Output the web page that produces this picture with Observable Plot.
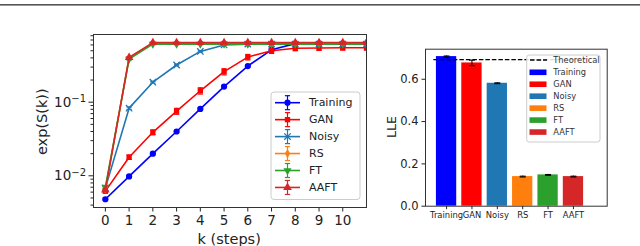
<!DOCTYPE html>
<html><head><meta charset="utf-8">
<script src="https://cdn.jsdelivr.net/npm/d3@7"></script>
<script src="https://cdn.jsdelivr.net/npm/@observablehq/plot@0.6"></script>
<style>
body{margin:0;background:#fff;}
#wrap{position:relative;width:640px;height:246px;overflow:hidden;font-family:"DejaVu Sans",sans-serif;}
#wrap > svg{position:absolute;top:0;}
</style></head><body><div id="wrap"></div>
<script>
// ---------- Left panel data ----------
const steps = [0,1,2,3,4,5,6,7,8,9,10,11];
const training    = [0.0048,0.0098,0.020,0.040,0.081,0.163,0.31,0.515,0.625,0.625,0.625,0.625];
const trainingErr = [0.0002,0.0004,0.0008,0.0015,0.003,0.006,0.010,0.012,0.010,0.010,0.010,0.010];
const gan         = [0.0062,0.0179,0.039,0.0755,0.143,0.26,0.41,0.50,0.54,0.545,0.55,0.55];
const ganErr      = [0.0004,0.0012,0.003,0.007,0.014,0.025,0.035,0.040,0.040,0.040,0.040,0.040];
const noisy       = [0.0068,0.083,0.187,0.32,0.49,0.60,0.615,0.615,0.615,0.615,0.615,0.615];
const noisyErr    = [0.0003,0.003,0.005,0.008,0.010,0.010,0.008,0.008,0.008,0.008,0.008,0.008];
const rs          = [0.0066,0.40,0.635,0.635,0.635,0.635,0.635,0.635,0.635,0.635,0.635,0.635];
const rsErr       = [0.0003,0.012,0.010,0.010,0.010,0.010,0.010,0.010,0.010,0.010,0.010,0.010];
const ft          = [0.0070,0.385,0.615,0.615,0.615,0.615,0.615,0.615,0.615,0.615,0.615,0.615];
const ftErr       = [0.0003,0.012,0.010,0.010,0.010,0.010,0.010,0.010,0.010,0.010,0.010,0.010];
const aaft        = [0.0064,0.405,0.645,0.645,0.645,0.645,0.645,0.645,0.645,0.645,0.645,0.645];
const aaftErr     = [0.0003,0.012,0.010,0.010,0.010,0.010,0.010,0.010,0.010,0.010,0.010,0.010];
const seriesNames = ["Training","GAN","Noisy","RS","FT","AAFT"];
const seriesColors = ["#0000ff","#ff0000","#1f77b4","#ff7f0e","#2ca02c","#d62728"];
const kTicks = [0,1,2,3,4,5,6,7,8,9,10];
const yMajor = [0.01, 0.1];
const yMajorBase = ["10","10"];
const yMajorExp = ["\u22122","\u22121"];
const yMinor = [0.004,0.005,0.006,0.007,0.008,0.009,0.02,0.03,0.04,0.05,0.06,0.07,0.08,0.09,0.2,0.3,0.4,0.5,0.6,0.7,0.8];

// ---------- Right panel data ----------
const methods = ["Training","GAN","Noisy","RS","FT","AAFT"];
const lle     = [0.707,0.677,0.581,0.140,0.148,0.140];
const lleErr  = [0.003,0.013,0.002,0.002,0.002,0.002];
const lleTicks = [0,0.2,0.4,0.6];
const theoretical = 0.693;
const theoreticalSpan = [-0.5, 5.5];

// ---------- symbols ----------
const hline = {draw(ctx,size){const w=Math.sqrt(size/Math.PI);ctx.moveTo(-w,0);ctx.lineTo(w,0);}};
const triDown = {draw(ctx,size){const p={moveTo:(x,y)=>ctx.moveTo(x,-y),lineTo:(x,y)=>ctx.lineTo(x,-y),closePath:()=>ctx.closePath()};d3.symbolTriangle.draw(p,size);}};
const seriesSymbols = ["circle","square","times","diamond",triDown,"triangle"];
const symbolObj = [d3.symbolCircle,d3.symbolSquare,d3.symbolTimes,d3.symbolDiamond,triDown,d3.symbolTriangle];
const seriesR = [3.1,3.0,3.0,2.8,3.0,3.2];

const seriesValues = [training,gan,noisy,rs,ft,aaft];
const seriesErrs = [trainingErr,ganErr,noisyErr,rsErr,ftErr,aaftErr];

const leftMarks = [];
seriesNames.forEach((name,si)=>{
  const rows = steps.map((k,i)=>({k, v:seriesValues[si][i], e:seriesErrs[si][i]}));
  const c = seriesColors[si];
  leftMarks.push(
    Plot.ruleX(rows,{x:"k",y1:d=>d.v-d.e,y2:d=>d.v+d.e,stroke:c,strokeWidth:1.2,clip:true}),
    Plot.dot(rows,{x:"k",y:d=>d.v+d.e,symbol:hline,r:2.6,stroke:c,fill:"none",strokeWidth:1.2,clip:true}),
    Plot.dot(rows,{x:"k",y:d=>d.v-d.e,symbol:hline,r:2.6,stroke:c,fill:"none",strokeWidth:1.2,clip:true}),
    Plot.line(rows,{x:"k",y:"v",stroke:c,strokeWidth:1.6,clip:true}),
    seriesSymbols[si]==="times"
      ? Plot.dot(rows,{x:"k",y:"v",symbol:"times",r:seriesR[si],stroke:c,fill:"none",strokeWidth:1.3,clip:true})
      : Plot.dot(rows,{x:"k",y:"v",symbol:seriesSymbols[si],r:seriesR[si],fill:c,stroke:"none",clip:true})
  );
});

const left = Plot.plot({
  width:370,height:246,
  marginLeft:93,marginRight:4,marginTop:34,marginBottom:39,
  style:{fontFamily:"DejaVu Sans",fontSize:"13.5px",color:"#222",background:"transparent"},
  x:{domain:[-0.5,11]},
  y:{type:"log",domain:[0.00371,0.8313]},
  marks:[
    Plot.axisX({ticks:kTicks,tickSize:4.5,tickPadding:3,label:null,fontSize:13.5,tickFormat:d=>String(d)}),
    Plot.axisY({ticks:yMinor,tickSize:2.5,label:null,tickFormat:()=>""}),
    Plot.axisY({ticks:yMajor,tickSize:4.5,tickPadding:3,label:null,fontSize:13.5,
      tickFormat:d=>yMajorBase[yMajor.indexOf(d)] + "^" + yMajorExp[yMajor.indexOf(d)]}),
    ...leftMarks,
    Plot.frame({stroke:"#333"})
  ]
});
left.style.left="0px";
// render the power-of-ten labels with a raised exponent
d3.select(left).selectAll("text").each(function(){
  const t = this.textContent;
  if (t.includes("^")) {
    const [b,e] = t.split("^");
    const el = d3.select(this);
    el.text(null);
    el.append("tspan").text(b);
    el.append("tspan").attr("dy","-0.45em").attr("font-size","10px").text(e);
  }
});

const barRows = methods.map((m,i)=>({i, m, v:lle[i], e:lleErr[i], color:seriesColors[i]}));
const right = Plot.plot({
  width:270,height:246,
  marginLeft:55,marginRight:33.3,marginTop:48.7,marginBottom:40.3,
  style:{fontFamily:"DejaVu Sans",fontSize:"11.5px",color:"#222",background:"transparent"},
  x:{domain:[-0.83,6.33]},
  y:{domain:[0,0.742]},
  color:{type:"identity"},
  marks:[
    Plot.axisX({ticks:d3.range(methods.length),tickSize:3.5,tickPadding:2.5,label:null,fontSize:8.4,tickFormat:i=>methods[i]}),
    Plot.axisY({ticks:lleTicks,tickSize:3.5,tickPadding:3.5,label:null,fontSize:11.5,tickFormat:d3.format(".1f")}),
    Plot.rect(barRows,{x1:d=>d.i-0.4,x2:d=>d.i+0.4,y1:0,y2:"v",fill:"color"}),
    Plot.ruleX(barRows,{x:"i",y1:d=>d.v-d.e,y2:d=>d.v+d.e,stroke:"black",strokeWidth:1}),
    Plot.dot(barRows,{x:"i",y:d=>d.v+d.e,symbol:hline,r:3,stroke:"black",fill:"none",strokeWidth:1}),
    Plot.dot(barRows,{x:"i",y:d=>d.v-d.e,symbol:hline,r:3,stroke:"black",fill:"none",strokeWidth:1}),
    Plot.ruleY([theoretical],{x1:theoreticalSpan[0],x2:theoreticalSpan[1],stroke:"black",strokeWidth:1.3,strokeDasharray:"4.5,2"}),
    Plot.frame({stroke:"#333"})
  ]
});
right.style.left="370px";

const wrap = document.getElementById("wrap");
wrap.appendChild(left);
wrap.appendChild(right);

// ---------- overlay: labels, legends, page rule ----------
const ov = d3.select(wrap).append("svg").attr("width",640).attr("height",246)
  .style("position","absolute").style("left","0px").style("top","0px")
  .attr("font-family","DejaVu Sans");
ov.append("rect").attr("x",0).attr("y",4).attr("width",640).attr("height",1.6).attr("fill","#555");

ov.append("text").attr("transform","translate(41.7,121.7) rotate(-90)").attr("text-anchor","middle")
  .attr("dominant-baseline","central").attr("font-size",14.5).attr("fill","#222").text("exp(S(k))");
ov.append("text").attr("x",229.2).attr("y",238.5).attr("text-anchor","middle")
  .attr("dominant-baseline","central").attr("font-size",14.5).attr("fill","#222").text("k (steps)");
ov.append("text").attr("transform","translate(391.7,127) rotate(-90)").attr("text-anchor","middle")
  .attr("dominant-baseline","central").attr("font-size",12.5).attr("fill","#222").text("LLE");

// left legend
const lg = ov.append("g");
lg.append("rect").attr("x",271).attr("y",92).attr("width",89).attr("height",107.5).attr("rx",3)
  .attr("fill","white").attr("fill-opacity",0.85).attr("stroke","#ccc").attr("stroke-width",1);
seriesNames.forEach((name,i)=>{
  const y = 102.7 + i*16.95;
  const c = seriesColors[i];
  const g = lg.append("g");
  g.append("line").attr("x1",275).attr("x2",300).attr("y1",y).attr("y2",y).attr("stroke",c).attr("stroke-width",1.6);
  g.append("line").attr("x1",287.5).attr("x2",287.5).attr("y1",y-7).attr("y2",y+7).attr("stroke",c).attr("stroke-width",1.2);
  g.append("line").attr("x1",284.9).attr("x2",290.1).attr("y1",y-7).attr("y2",y-7).attr("stroke",c).attr("stroke-width",1.2);
  g.append("line").attr("x1",284.9).attr("x2",290.1).attr("y1",y+7).attr("y2",y+7).attr("stroke",c).attr("stroke-width",1.2);
  const sz = Math.PI*seriesR[i]*seriesR[i];
  const p = g.append("path").attr("transform",`translate(287.5,${y})`).attr("d",d3.symbol(symbolObj[i],sz)());
  if (i===2) p.attr("fill","none").attr("stroke",c).attr("stroke-width",1.3); else p.attr("fill",c);
  g.append("text").attr("x",309).attr("y",y).attr("dominant-baseline","central").attr("font-size",11)
    .attr("fill","#222").text(name);
});

// right legend
const rg = ov.append("g");
rg.append("rect").attr("x",526.7).attr("y",55).attr("width",73.3).attr("height",87).attr("rx",2.5)
  .attr("fill","white").attr("fill-opacity",0.85).attr("stroke","#ccc").attr("stroke-width",1);
rg.append("line").attr("x1",530).attr("x2",547).attr("y1",60).attr("y2",60).attr("stroke","black")
  .attr("stroke-width",1.3).attr("stroke-dasharray","4.5,2");
rg.append("text").attr("x",553.3).attr("y",60).attr("dominant-baseline","central").attr("font-size",8.3)
  .attr("fill","#333").text("Theoretical");
methods.forEach((m,i)=>{
  const y = 72.3 + i*11.95;
  rg.append("rect").attr("x",529.5).attr("y",y-2.8).attr("width",17).attr("height",5.6).attr("fill",seriesColors[i]);
  rg.append("text").attr("x",553.3).attr("y",y).attr("dominant-baseline","central").attr("font-size",8.3)
    .attr("fill","#333").text(m);
});
</script></body></html>
